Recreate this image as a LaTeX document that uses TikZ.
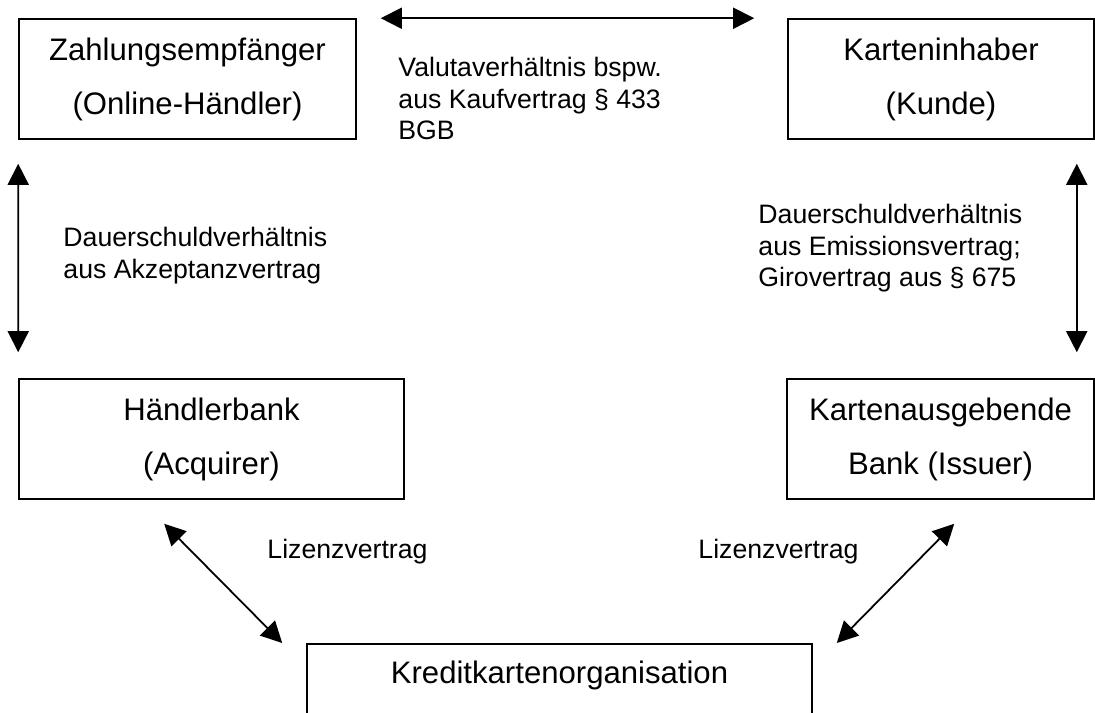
\documentclass[tikz,border=0pt]{standalone}
\usepackage{fontspec}
\setmainfont{Liberation Sans}
\usetikzlibrary{arrows.meta,calc}
\tikzset{
  box/.style={draw, line width=0.7pt, align=center, inner sep=0pt, minimum height=54pt, font=\fontsize{14}{24.3}\selectfont},
  lbl/.style={anchor=north west, align=left, inner sep=0pt, font=\fontsize{12}{14.2}\selectfont},
  conn/.style={{Triangle[length=9.5pt,width=9.5pt]}-{Triangle[length=9.5pt,width=9.5pt]}, line width=0.8pt}
}
\begin{document}
\begin{tikzpicture}[x=0.45pt,y=-0.45pt]
\useasboundingbox (0,0) rectangle (1095,713);
\clip (0,0) rectangle (1095,713);
% parties
\node[box, minimum width=151.65pt] (zahl) at (187.5,79) {Zahlungsempfänger\\(Online-Händler)};
\node[box, minimum width=137.7pt] (kunde) at (941,79) {Karteninhaber\\(Kunde)};
\node[box, minimum width=173.25pt] (acq) at (211.5,439) {Händlerbank\\(Acquirer)};
\node[box, minimum width=138.15pt] (iss) at (940.5,439) {Kartenausgebende\\Bank (Issuer)};
\node[box, minimum width=227.25pt, anchor=north, text height=18pt, text depth=36pt] (kko) at (559.5,643) {Kreditkartenorganisation};
% contracts
\draw[conn] ($(zahl.north east)+(24,0)$) -- ($(kunde.north west)+(-33,0)$);
\draw[conn] ($(zahl.south west)+(0,24)$) -- ($(acq.north west)+(0,-26)$);
\draw[conn] ($(kunde.south east)+(-18,24)$) -- ($(iss.north east)+(-18,-26)$);
\draw[conn] ($(acq.south west)+(146,24)$) -- ($(kko.north west)+(-24,0)$);
\draw[conn] ($(iss.south west)+(168,24)$) -- ($(kko.north east)+(24,0)$);
\node[lbl] (valuta) at (398,57) {Valutaverhältnis bspw.\\aus Kaufvertrag § 433\\BGB};
\node[lbl] (akzept) at (63,227) {Dauerschuldverhältnis\\aus Akzeptanzvertrag};
\node[lbl] (emiss) at (758,204) {Dauerschuldverhältnis\\aus Emissionsvertrag;\\Girovertrag aus § 675};
\node[lbl] (lizl) at (267,539) {Lizenzvertrag};
\node[lbl] (lizr) at (698,539) {Lizenzvertrag};
\end{tikzpicture}
\end{document}
